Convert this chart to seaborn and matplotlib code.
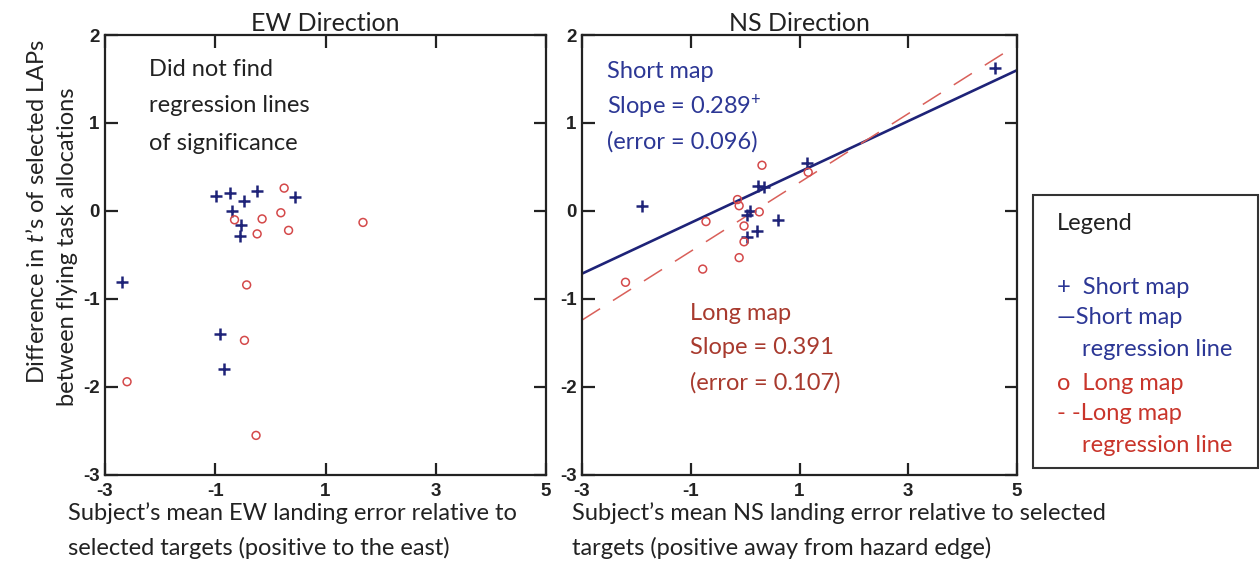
import matplotlib
matplotlib.use("Agg")
import matplotlib.pyplot as plt
from matplotlib.patches import Rectangle
import numpy as np
import pandas as pd
import seaborn as sns

# ---- data -------------------------------------------------------------
# EW direction: mean landing error (x) vs difference in t's (y)
ew_short_x = [-2.69, -0.99, -0.74, -0.47, -0.24, 0.45, -0.70, -0.53, -0.56, -0.91, -0.85]
ew_short_y = [-0.81, 0.17, 0.20, 0.11, 0.23, 0.16, 0.00, -0.16, -0.28, -1.40, -1.79]
ew_long_x = [-2.60, 0.25, 0.19, -0.65, -0.15, -0.24, 0.33, 1.68, -0.43, -0.47, -0.26]
ew_long_y = [-1.94, 0.26, -0.02, -0.10, -0.09, -0.26, -0.22, -0.13, -0.84, -1.47, -2.55]

# NS direction
ns_short_x = [-1.90, 1.14, 4.59, 0.24, 0.34, 0.09, 0.03, 0.61, 0.21, 0.03]
ns_short_y = [0.06, 0.54, 1.62, 0.28, 0.27, 0.00, -0.05, -0.10, -0.23, -0.30]
ns_long_x = [-2.20, -0.78, -0.72, -0.11, -0.14, -0.11, -0.02, -0.02, 0.26, 0.31, 1.16]
ns_long_y = [-0.81, -0.66, -0.12, -0.53, 0.13, 0.06, -0.17, -0.35, -0.01, 0.52, 0.44]

# fitted regression lines (NS direction)
short_slope, short_intercept = 0.289, 0.155
long_slope, long_intercept = 0.391, -0.067
short_fit_x = [-3.0, 5.0]
long_fit_x = [-3.0, 4.87]

x_ticks = [-3, -1, 1, 3, 5]
y_ticks = [-3, -2, -1, 0, 1, 2]

# ---- style ------------------------------------------------------------
sns.set_theme(style="white")
plt.rcParams["font.family"] = ["Lato", "DejaVu Sans"]
plt.rcParams["mathtext.fontset"] = "custom"
plt.rcParams["mathtext.it"] = "Lato:italic"
plt.rcParams["mathtext.rm"] = "Lato"

NAVY = "#1e2378"
BLUE_TXT = "#2c3795"
RED_MK = "#d4494a"
RED_LINE = "#d9605a"
RED_TXT = "#a83a2e"
RED_LEG = "#c9352b"
INK = "#222222"

W, H = 1260, 573
fig = plt.figure(figsize=(W / 100, H / 100), dpi=100)
fig.patch.set_facecolor("white")

ax_ew = fig.add_axes([105 / W, 1 - 475 / H, 441 / W, 440 / H])
ax_ns = fig.add_axes([582 / W, 1 - 475 / H, 435 / W, 440 / H])


def scatter_pair(ax, sx, sy, lx, ly):
    sns.scatterplot(x=sx, y=sy, ax=ax, marker="+", s=80, color=NAVY,
                    linewidth=1.8, zorder=3)
    sns.scatterplot(x=lx, y=ly, ax=ax, marker="o", s=32, facecolor="none",
                    edgecolor=RED_MK, linewidth=1.1, zorder=3)


scatter_pair(ax_ew, ew_short_x, ew_short_y, ew_long_x, ew_long_y)
scatter_pair(ax_ns, ns_short_x, ns_short_y, ns_long_x, ns_long_y)

short_fit = pd.DataFrame({"x": short_fit_x})
short_fit["y"] = short_intercept + short_slope * short_fit["x"]
long_fit = pd.DataFrame({"x": long_fit_x})
long_fit["y"] = long_intercept + long_slope * long_fit["x"]
sns.lineplot(data=short_fit, x="x", y="y", ax=ax_ns, color=NAVY, linewidth=1.9,
             zorder=2)
sns.lineplot(data=long_fit, x="x", y="y", ax=ax_ns, color=RED_LINE, linewidth=1.1,
             dashes=False, zorder=2)
ax_ns.lines[-1].set_dashes([14, 10])

for ax in (ax_ew, ax_ns):
    ax.set_xlim(-3, 5)
    ax.set_ylim(-3, 2)
    ax.set_xticks(x_ticks, [str(v) for v in x_ticks])
    ax.set_yticks(y_ticks, [str(v) for v in y_ticks])
    ax.tick_params(direction="in", length=9, width=1.6, top=True, right=True,
                   bottom=True, left=True, colors=INK, labelsize=13.5,
                   labelfontfamily="Liberation Sans")
    ax.tick_params(axis="x", pad=6)
    ax.tick_params(axis="y", pad=4)
    for lab in ax.get_xticklabels() + ax.get_yticklabels():
        lab.set_fontweight("bold")
    for sp in ax.spines.values():
        sp.set_visible(True)
        sp.set_color(INK)
        sp.set_linewidth(1.6)
    ax.set_xlabel("")
    ax.set_ylabel("")

ax_ew.set_title("EW Direction", fontsize=18, color=INK, pad=3)
ax_ns.set_title("NS Direction", fontsize=18, color=INK, pad=3)

# annotations inside the panels
FS = 17
for i, line in enumerate(["Did not find", "regression lines", "of significance"]):
    fig.text(149 / W, 1 - (69 + 37 * i) / H, line, fontsize=FS, color=INK,
             va="center", ha="left")
for i, line in enumerate(["Short map", "Slope = 0.289$^{+}$", "(error = 0.096)"]):
    fig.text(607 / W, 1 - (72 + 35 * i) / H, line, fontsize=FS, color=BLUE_TXT,
             va="center", ha="left")
for i, line in enumerate(["Long map", "Slope = 0.391", "(error = 0.107)"]):
    fig.text(690 / W, 1 - (313 + 35 * i) / H, line, fontsize=FS, color=RED_TXT,
             va="center", ha="left")

# axis labels
fig.text(37 / W, 1 - 212 / H, "Difference in $t$\u2019s of selected LAPs",
         rotation=90, fontsize=FS, color=INK, va="center", ha="center")
fig.text(68 / W, 1 - 247 / H, "between flying task allocations",
         rotation=90, fontsize=FS, color=INK, va="center", ha="center")
for i, line in enumerate(["Subject\u2019s mean EW landing error relative to",
                          "selected targets (positive to the east)"]):
    fig.text(68 / W, 1 - (513 + 35 * i) / H, line, fontsize=FS, color=INK,
             va="center", ha="left")
for i, line in enumerate(["Subject\u2019s mean NS landing error relative to selected",
                          "targets (positive away from hazard edge)"]):
    fig.text(572 / W, 1 - (513 + 35 * i) / H, line, fontsize=FS, color=INK,
             va="center", ha="left")

# legend box
fig.patches.append(Rectangle((1033 / W, 1 - 468 / H), 225 / W, 273 / H,
                             transform=fig.transFigure, fill=False,
                             edgecolor="#333333", linewidth=1.5))
fig.text(1057 / W, 1 - 223 / H, "Legend", fontsize=FS, color=INK, va="center")
legend_rows = [
    (1057, 288, "+  Short map", BLUE_TXT),
    (1057, 318, "\u2014Short map", BLUE_TXT),
    (1082, 350, "regression line", BLUE_TXT),
    (1057, 383, "o  Long map", RED_LEG),
    (1057, 414, "- -Long map", RED_LEG),
    (1082, 446, "regression line", RED_LEG),
]
for x, y, txt, c in legend_rows:
    fig.text(x / W, 1 - y / H, txt, fontsize=FS, color=c, va="center", ha="left")

fig.savefig("out.png", dpi=100, facecolor="white")
